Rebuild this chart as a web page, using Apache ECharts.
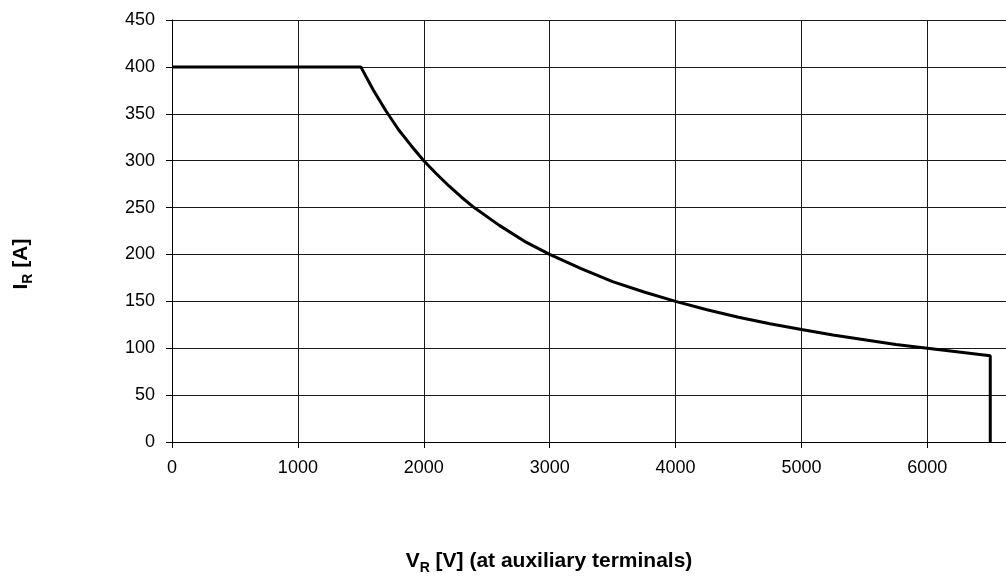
<!DOCTYPE html>
<html>
<head>
<meta charset="utf-8">
<script src="https://cdn.jsdelivr.net/npm/echarts@6/dist/echarts.min.js"></script>
<style>
html,body{margin:0;padding:0;background:#fff;}
#chart{width:1006px;height:579px;}
</style>
</head>
<body>
<div id="chart"></div>
<script>
// Reverse voltage V_R [V] and current I_R [A]
const voltage = [0, 1500, 1600, 1700, 1800, 1900, 2000, 2100, 2200, 2300, 2400, 2600, 2800, 3000, 3250, 3500, 3750, 4000, 4250, 4500, 4750, 5000, 5250, 5500, 5750, 6000, 6250, 6500, 6500];
const current = [400, 400, 375, 353, 333, 316, 300, 286, 273, 261, 250, 231, 214, 200, 185, 171, 160, 150, 141, 133, 126, 120, 114, 109, 104, 100, 96, 92, 0];
const xTicks = [0, 1000, 2000, 3000, 4000, 5000, 6000];
const yTicks = [0, 50, 100, 150, 200, 250, 300, 350, 400, 450];
const xTitle = ['V', 'R', ' [V] (at auxiliary terminals)'];
const yTitle = ['I', 'R', ' [A]'];

const FONT = '"Liberation Sans", Arial, sans-serif';
const chart = echarts.init(document.getElementById('chart'), null, {renderer: 'canvas'});
const gridLeft = 172, gridTop = 20, gridBottom = 137;

const richStyles = {
  b: {fontFamily: FONT, fontSize: 21, fontWeight: 'bold', color: '#000', lineHeight: 24, verticalAlign: 'top'},
  s: {fontFamily: FONT, fontSize: 14, fontWeight: 'bold', color: '#000', lineHeight: 16, verticalAlign: 'bottom'}
};
function titleText(parts) {
  return '{b|' + parts[0] + '}{s|' + parts[1] + '}{b|' + parts[2] + '}';
}

const option = {
  animation: false,
  backgroundColor: '#fff',
  grid: {left: gridLeft, right: 0, top: gridTop, bottom: gridBottom, containLabel: false},
  xAxis: {
    type: 'value',
    min: xTicks[0],
    max: 6625,
    interval: 1000,
    axisLine: {show: true, lineStyle: {color: '#000', width: 1}},
    axisTick: {show: true, inside: false, length: 6, lineStyle: {color: '#000'}},
    axisLabel: {
      show: true, margin: 17, fontFamily: FONT, fontSize: 18, color: '#000',
      showMaxLabel: false,
      formatter: v => xTicks.indexOf(v) >= 0 ? String(v) : ''
    },
    splitLine: {show: true, lineStyle: {color: '#1a1a1a', width: 1}}
  },
  yAxis: {
    type: 'value',
    min: yTicks[0],
    max: yTicks[yTicks.length - 1],
    interval: 50,
    axisLine: {show: true, lineStyle: {color: '#000', width: 1}},
    axisTick: {show: true, inside: false, length: 6, lineStyle: {color: '#000'}},
    axisLabel: {show: true, margin: 17, fontFamily: FONT, fontSize: 18, color: '#000'},
    splitLine: {show: true, lineStyle: {color: '#1a1a1a', width: 1}}
  },
  graphic: [
    {
      type: 'text',
      x: 549, y: 551,
      style: {text: titleText(xTitle), rich: richStyles, fill: '#000', align: 'center'}
    },
    {
      type: 'text',
      x: 11, y: 264,
      rotation: Math.PI / 2,
      style: {text: titleText(yTitle), rich: richStyles, fill: '#000', align: 'center'}
    }
  ],
  series: [{
    type: 'line',
    data: voltage.map((v, i) => [v, current[i]]),
    showSymbol: false,
    symbol: 'none',
    lineStyle: {color: '#000', width: 3},
    clip: false
  }]
};
chart.setOption(option);
</script>
</body>
</html>
